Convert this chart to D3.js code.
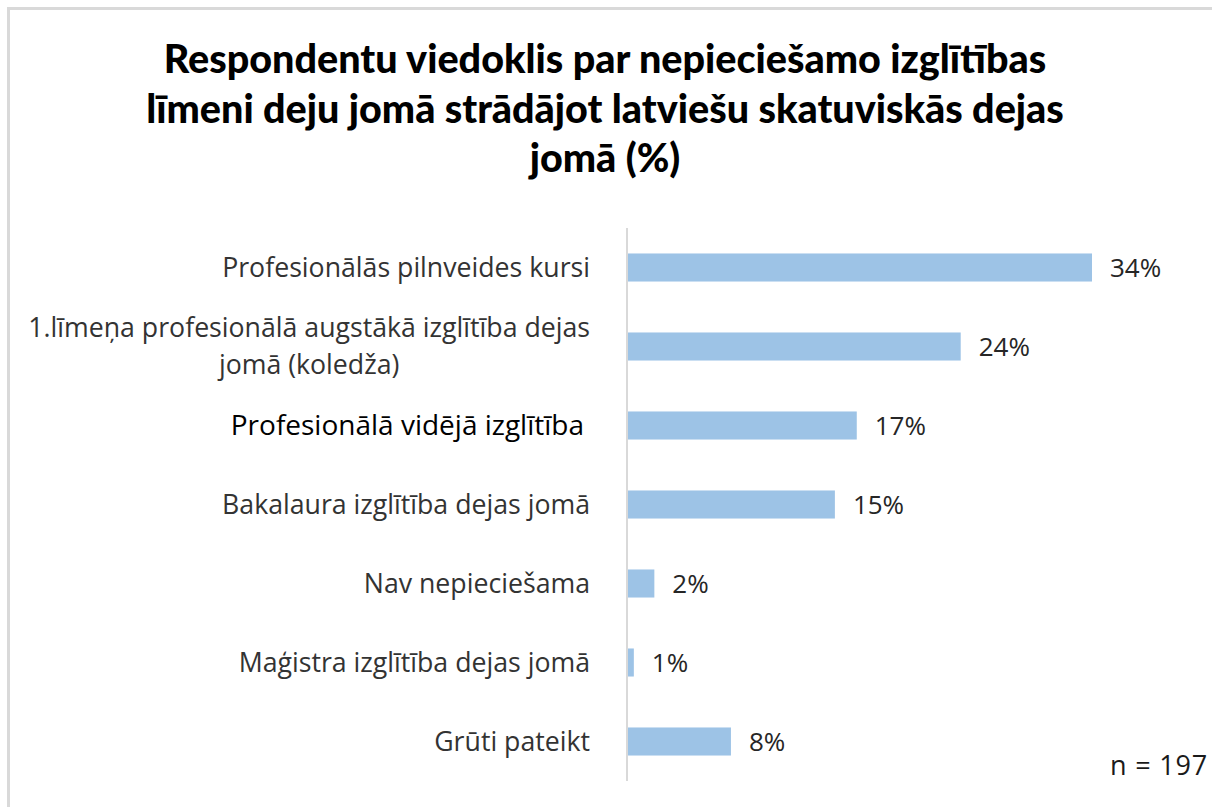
<!DOCTYPE html>
<html>
<head>
<meta charset="utf-8">
<script src="https://cdn.jsdelivr.net/npm/d3@7"></script>
<style>
  body { margin: 0; background: #fff; }
  svg { display: block; }
</style>
</head>
<body>
<div class="container"></div>
<script>
const titleLines = [
    "Respondentu viedoklis par nepieciešamo izglītības",
    "līmeni deju jomā strādājot latviešu skatuviskās dejas",
    "jomā (%)"
];
const categories = [
    ["Profesionālās pilnveides kursi"],
    ["1.līmeņa profesionālā augstākā izglītība dejas", "jomā (koledža)"],
    ["Profesionālā vidējā izglītība"],
    ["Bakalaura izglītība dejas jomā"],
    ["Nav nepieciešama"],
    ["Maģistra izglītība dejas jomā"],
    ["Grūti pateikt"]
];
const values = [34.0, 24.4, 16.8, 15.2, 2.0, 0.5, 7.6];
const sampleNote = "n = 197";

const render = () => {
    const width = 1212,
        height = 807,
        margin = {top: 228, left: 627, bottom: 26},
        font = "'Open Sans', sans-serif",
        titleFont = "Lato, sans-serif";

    const data = categories.map((c, i) => ({key: i, lines: c, value: values[i]}));

    const svg = d3.select('.container')
        .append('svg')
        .attr('width', width)
        .attr('height', height);

    svg.append('rect')
        .attr('width', width)
        .attr('height', height)
        .attr('fill', '#fff');

    // chart frame, cut off at right/bottom like the screenshot
    svg.append('rect')
        .attr('x', 8.5)
        .attr('y', 8.5)
        .attr('width', width + 40)
        .attr('height', height + 40)
        .attr('fill', 'none')
        .attr('stroke', '#d9d9d9')
        .attr('stroke-width', 3);

    svg.append('g')
        .selectAll('text')
        .data(titleLines)
        .enter()
        .append('text')
        .attr('x', 605)
        .attr('y', (d, i) => 73 + i * 49.5)
        .attr('text-anchor', 'middle')
        .attr('font-family', titleFont)
        .attr('font-weight', 900)
        .attr('font-size', 39.5)
        .attr('fill', '#000')
        .text(d => d);

    const x = d3.scaleLinear()
        .domain([0, 40])
        .range([margin.left, margin.left + 465 / 34 * 40]);

    const y = d3.scaleBand()
        .domain(data.map(d => d.key))
        .range([margin.top, height - margin.bottom])
        .paddingInner(0.645)
        .paddingOuter(0.3225);

    svg.selectAll('.bar')
        .data(data)
        .enter()
        .append('rect')
        .attr('class', 'bar')
        .attr('x', x(0))
        .attr('y', d => y(d.key))
        .attr('width', d => x(d.value) - x(0))
        .attr('height', y.bandwidth())
        .attr('fill', '#9dc3e6');

    svg.append('line')
        .attr('x1', x(0))
        .attr('x2', x(0))
        .attr('y1', margin.top)
        .attr('y2', height - margin.bottom)
        .attr('stroke', '#d9d9d9')
        .attr('stroke-width', 2);

    svg.selectAll('.value')
        .data(data)
        .enter()
        .append('text')
        .attr('class', 'value')
        .attr('x', d => x(d.value) + 18)
        .attr('y', d => y(d.key) + y.bandwidth() / 2)
        .attr('dy', '0.36em')
        .attr('font-family', font)
        .attr('font-size', 26)
        .attr('fill', '#262626')
        .text(d => Math.round(d.value) + '%');

    const labels = svg.selectAll('.label')
        .data(data)
        .enter()
        .append('text')
        .attr('class', 'label')
        .attr('font-family', font)
        .attr('font-size', d => d.key === 2 ? 28 : 26.7)
        .attr('fill', d => d.key === 2 ? '#000' : '#333');

    labels.each(function(d) {
        const t = d3.select(this),
            cy = y(d.key) + y.bandwidth() / 2,
            lh = 37,
            top = cy - (d.lines.length - 1) * lh / 2;
        const spans = t.selectAll('tspan')
            .data(d.lines)
            .enter()
            .append('tspan')
            .attr('y', (l, i) => top + i * lh)
            .attr('dy', '0.35em')
            .text(l => l);
        // multi-line labels are centered in their block, block right-aligned
        let maxW = 0;
        spans.each(function() { maxW = Math.max(maxW, this.getComputedTextLength()); });
        const right = d.key === 2 ? 584 : 590;
        spans.attr('x', right - maxW / 2).attr('text-anchor', 'middle');
    });

    svg.append('text')
        .attr('x', 1208)
        .attr('y', 775)
        .attr('text-anchor', 'end')
        .attr('font-family', font)
        .attr('font-size', 27)
        .attr('letter-spacing', 0.8)
        .attr('fill', '#1a1a1a')
        .text(sampleNote);
};

render();
</script>
</body>
</html>
